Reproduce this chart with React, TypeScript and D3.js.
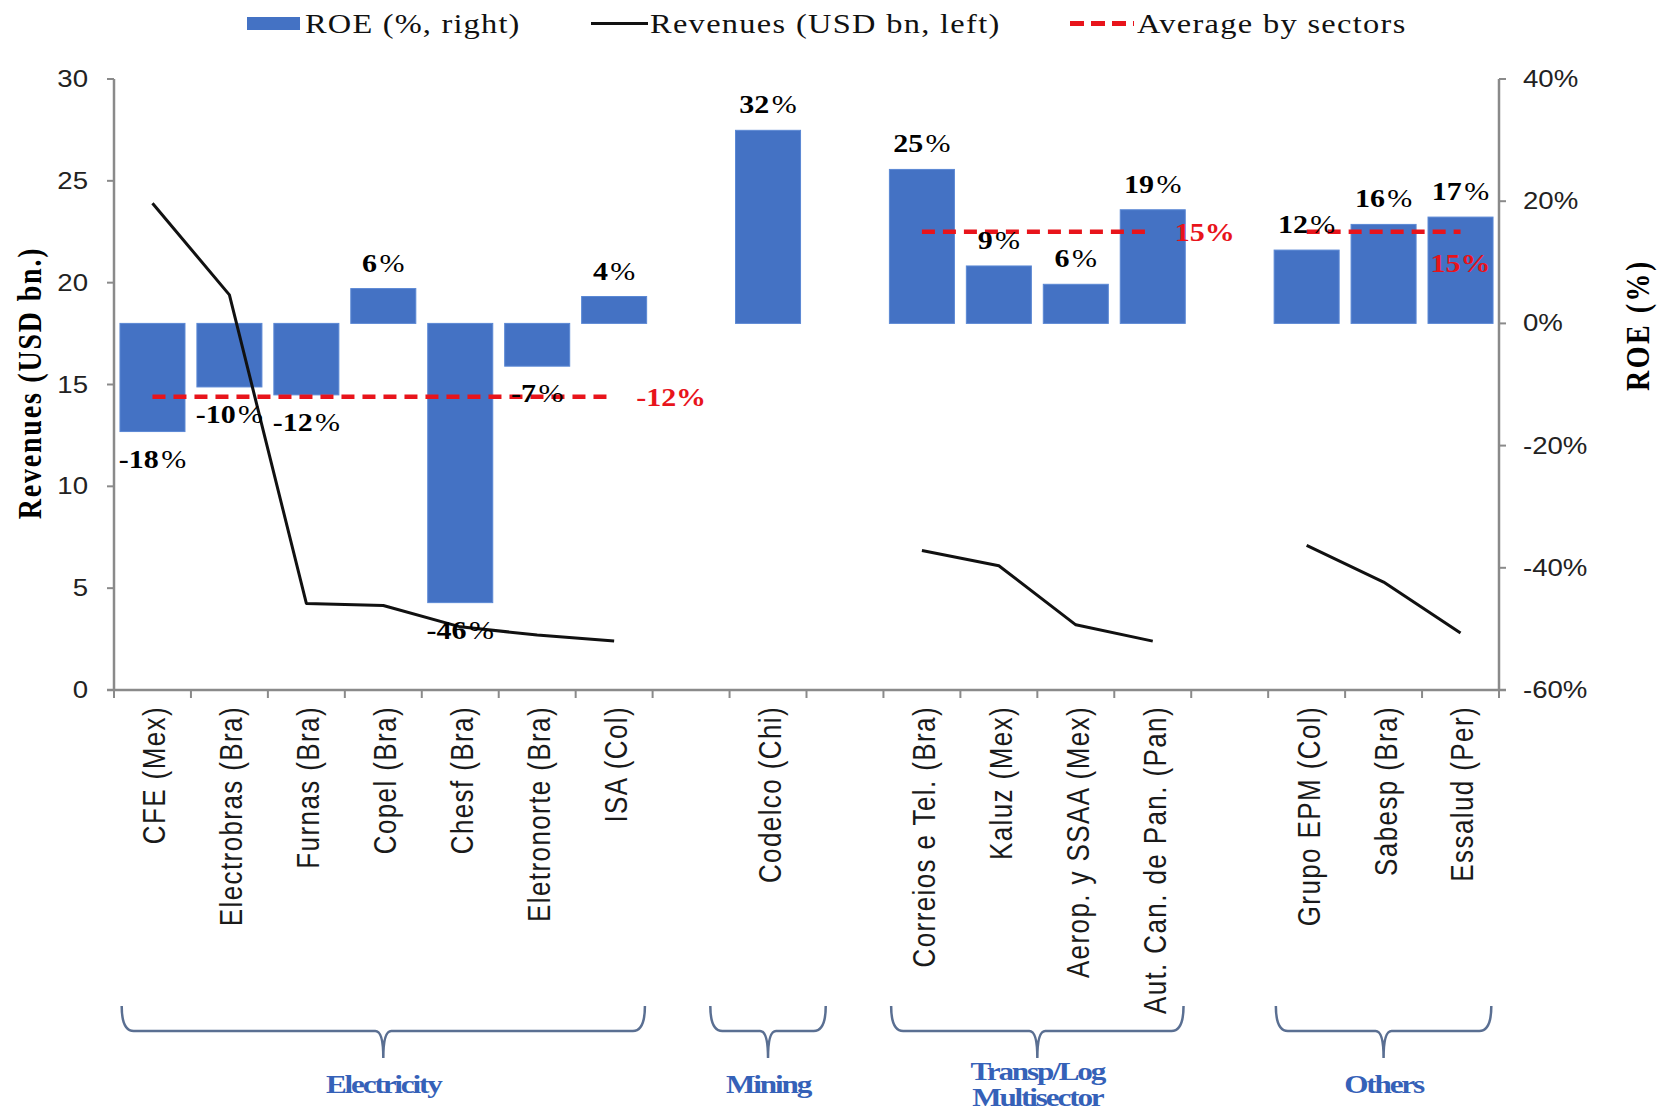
import React from "react";
import * as d3 from "d3";

const categories = [
  "CFE (Mex)", "Electrobras (Bra)", "Furnas (Bra)", "Copel (Bra)", "Chesf (Bra)", "Eletronorte (Bra)", "ISA (Col)",
  "",
  "Codelco (Chi)",
  "",
  "Correios e Tel. (Bra)", "Kaluz (Mex)", "Aerop. y SSAA (Mex)", "Aut. Can. de Pan. (Pan)",
  "",
  "Grupo EPM (Col)", "Sabesp (Bra)", "Essalud (Per)",
];
const roe: (number | null)[] = [-17.7, -10.4, -11.7, 5.7, -45.7, -7.0, 4.4, null, 31.6, null, 25.2, 9.4, 6.4, 18.6, null, 12.0, 16.2, 17.4];
const revenues: (number | null)[] = [23.9, 19.4, 4.25, 4.15, 3.1, 2.7, 2.4, null, null, null, 6.85, 6.1, 3.2, 2.4, null, 7.1, 5.3, 2.8];
const sectorNames = [["Electricity"], ["Mining"], ["Transp/Log", "Multisector"], ["Others"]];
const sectorFirst = [0, 8, 10, 15];
const sectorLast = [6, 8, 13, 17];
const sectorAverage: (number | null)[] = [-12, null, 15, 15];
const leftTicks = [0, 5, 10, 15, 20, 25, 30];
const rightTicks = [-60, -40, -20, 0, 20, 40];
const legendLabels = ["ROE (%, right)", "Revenues (USD bn, left)", "Average by sectors"];

const SERIF = "'Liberation Serif', 'Times New Roman', serif";
const SANS = "'Liberation Sans', Arial, sans-serif";
const SX = 1.2;
const BLUE = "#4472C4";
const RED = "#E8141B";
const AXIS = "#8a8a8a";

function T(props: any) {
  const { x, y, rotate, children, ...rest } = props;
  const tr = `translate(${x},${y}) scale(${SX},1)` + (rotate ? ` rotate(${rotate})` : "");
  return (
    <text transform={tr} {...rest}>
      {children}
    </text>
  );
}

export default function App() {
  const W = 1670, H = 1115;
  const L = 114, R = 1499, TOP = 79, B = 690;
  const idx = categories.map((_, i) => i);
  const x = d3.scaleBand<number>().domain(idx).range([L, R]).paddingInner(0.155).paddingOuter(0.0775);
  const step = x.step();
  const bw = x.bandwidth();
  const yL = d3.scaleLinear().domain([0, 30]).range([B, TOP]);
  const yR = d3.scaleLinear().domain([-60, 40]).range([B, TOP]);
  const cx = (i: number) => (x(i) as number) + bw / 2;

  const linePath = d3
    .line<number | null>()
    .defined((d) => d != null)
    .x((_, i) => cx(i))
    .y((d) => yL(d as number))(revenues) as string;

  const braceTop = 1006, braceMid = 1031, braceTip = 1058;

  return (
    <svg width={W} height={H} style={{ position: "absolute", left: 0, top: 0, background: "#fff" }}>
      <rect x={0} y={0} width={W} height={H} fill="#fff" />

      {/* Legend */}
      <g>
        <rect x={247} y={17} width={53} height={13} fill={BLUE} />
        <T x={305} y={33} fontFamily={SERIF} fontSize={27} letterSpacing={1} fill="#111">{legendLabels[0]}</T>
        <line x1={591} x2={648} y1={23.5} y2={23.5} stroke="#111" strokeWidth={3} />
        <T x={650} y={33} fontFamily={SERIF} fontSize={27} letterSpacing={1.1} fill="#111">{legendLabels[1]}</T>
        <line x1={1070} x2={1134} y1={23.5} y2={23.5} stroke={RED} strokeWidth={5} strokeDasharray="14 7" />
        <T x={1137} y={33} fontFamily={SERIF} fontSize={27} letterSpacing={1.1} fill="#111">{legendLabels[2]}</T>
      </g>

      {/* Bars */}
      {roe.map((v, i) =>
        v == null ? null : (
          <rect
            key={"b" + i}
            x={x(i)}
            width={bw}
            y={yR(Math.max(0, v))}
            height={Math.abs(yR(v) - yR(0))}
            fill={BLUE}
            stroke="#5b88d4"
            strokeWidth={1}
          />
        )
      )}

      {/* Revenue line */}
      <path d={linePath} fill="none" stroke="#111" strokeWidth={3} strokeLinejoin="round" />

      {/* Sector averages */}
      {sectorAverage.map((a, s) => {
        if (a == null) return null;
        const x1 = cx(sectorFirst[s]);
        const x2 = cx(sectorLast[s]);
        const yy = yR(a);
        const label = `${a}%`;
        const fits = x2 + 22 + 70 < R;
        return (
          <g key={"a" + s}>
            <line x1={x1} x2={x2} y1={yy} y2={yy} stroke={RED} strokeWidth={4.5} strokeDasharray="13 8" />
            {fits ? (
              <T x={x2 + 22} y={yy + 9} fontFamily={SERIF} fontSize={25} fontWeight="bold" fill={RED}>{label}</T>
            ) : (
              <T x={x2} y={yy + 40} fontFamily={SERIF} fontSize={25} fontWeight="bold" fill={RED} textAnchor="middle">{label}</T>
            )}
          </g>
        );
      })}

      {/* Data labels */}
      {roe.map((v, i) => {
        if (v == null) return null;
        const yy = v >= 0 ? yR(v) - 17 : yR(v) + 36;
        return (
          <T key={"l" + i} x={cx(i)} y={yy} fontFamily={SERIF} fontSize={25} fill="#000" textAnchor="middle">
            <tspan fontWeight="bold">{Math.round(v)}</tspan>
            <tspan dx={2}>%</tspan>
          </T>
        );
      })}

      {/* Axes */}
      <line x1={L} x2={L} y1={TOP} y2={B} stroke={AXIS} strokeWidth={2.5} />
      <line x1={R} x2={R} y1={TOP} y2={B} stroke={AXIS} strokeWidth={2.5} />
      <line x1={L - 7} x2={R + 7} y1={B} y2={B} stroke={AXIS} strokeWidth={2.5} />
      {leftTicks.map((t) => (
        <g key={"lt" + t}>
          <line x1={L - 7} x2={L} y1={yL(t)} y2={yL(t)} stroke={AXIS} strokeWidth={2} />
          <T x={L - 26} y={yL(t) + 8} fontFamily={SANS} fontSize={23} fill="#222" textAnchor="end">{t}</T>
        </g>
      ))}
      {rightTicks.map((t) => (
        <g key={"rt" + t}>
          <line x1={R} x2={R + 7} y1={yR(t)} y2={yR(t)} stroke={AXIS} strokeWidth={2} />
          <T x={R + 24} y={yR(t) + 8} fontFamily={SANS} fontSize={23} fill="#222">{`${t}%`}</T>
        </g>
      ))}
      {d3.range(categories.length + 1).map((k) => (
        <line key={"xt" + k} x1={L + k * step} x2={L + k * step} y1={B} y2={B + 8} stroke={AXIS} strokeWidth={2} />
      ))}

      {/* Category labels */}
      {categories.map((c, i) =>
        c ? (
          <T key={"c" + i} x={cx(i) + 2} y={706} rotate={-90} fontFamily={SANS} fontSize={26} letterSpacing={1.4} fill="#1a1a1a" textAnchor="end" dy="0.35em">
            {c}
          </T>
        ) : null
      )}

      {/* Axis titles */}
      <T x={29} y={383} rotate={-90} fontFamily={SERIF} fontSize={28} fontWeight="bold" letterSpacing={1.8} fill="#000" textAnchor="middle" dy="0.35em">
        Revenues (USD bn.)
      </T>
      <T x={1637} y={325} rotate={-90} fontFamily={SERIF} fontSize={28} fontWeight="bold" letterSpacing={2.5} fill="#000" textAnchor="middle" dy="0.35em">
        ROE (%)
      </T>

      {/* Sector braces */}
      {sectorNames.map((lines, s) => {
        let x0 = L + step * sectorFirst[s] + 0.1 * step;
        let x1 = L + step * (sectorLast[s] + 1) - 0.1 * step;
        if (x1 - x0 < 1.5 * step) {
          const m = (x0 + x1) / 2;
          x0 = m - 0.75 * step;
          x1 = m + 0.75 * step;
        }
        const m = (x0 + x1) / 2;
        const d = `M${x0},${braceTop} Q${x0},${braceMid} ${x0 + 12},${braceMid} L${m - 8},${braceMid} Q${m},${braceMid} ${m},${braceTip} Q${m},${braceMid} ${m + 8},${braceMid} L${x1 - 12},${braceMid} Q${x1},${braceMid} ${x1},${braceTop}`;
        const baseY = lines.length > 1 ? 1080 : 1093;
        return (
          <g key={"s" + s}>
            <path d={d} fill="none" stroke="#5a6f92" strokeWidth={2.5} />
            {lines.map((t, k) => (
              <T key={k} x={m} y={baseY + k * 26} fontFamily={SERIF} fontSize={26} fontWeight="bold" letterSpacing={-1.8} fill="#3561b8" textAnchor="middle">
                {t}
              </T>
            ))}
          </g>
        );
      })}
    </svg>
  );
}
